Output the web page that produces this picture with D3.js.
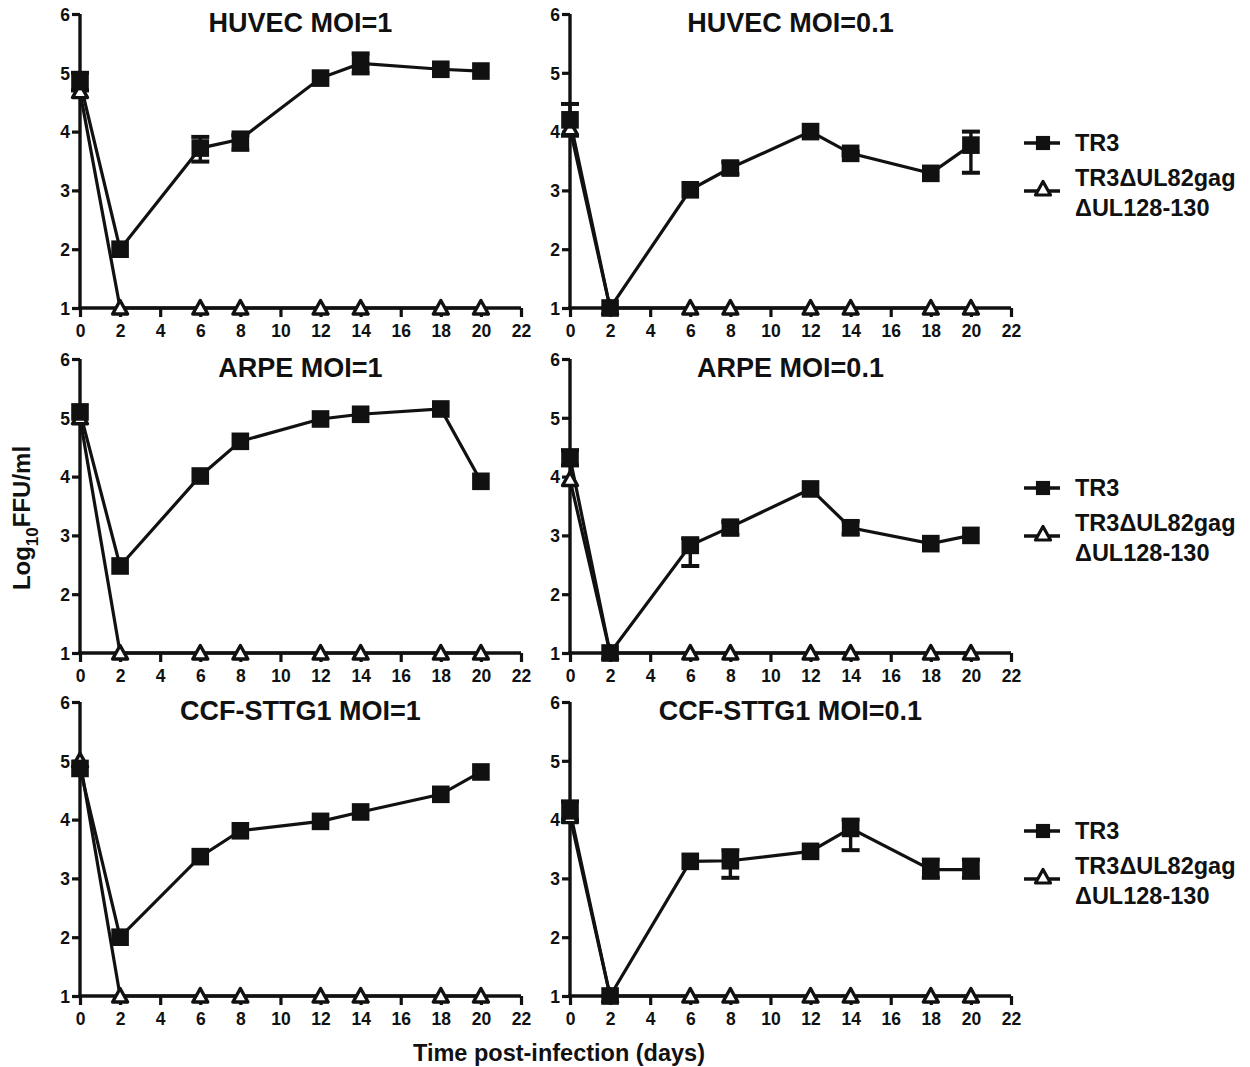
<!DOCTYPE html>
<html>
<head>
<meta charset="utf-8">
<script src="https://cdn.jsdelivr.net/npm/d3@7"></script>
<style>
  body { margin: 0; background: #fff; }
  svg text { font-family: "Liberation Sans", Arial, sans-serif; font-weight: bold; fill: #111; }
</style>
</head>
<body>
<svg id="chart" width="1250" height="1067"></svg>
<script>
// days sampled
const days = [0, 2, 6, 8, 12, 14, 18, 20];
const xTicks = [0, 2, 4, 6, 8, 10, 12, 14, 16, 18, 20, 22];
const yTicks = [1, 2, 3, 4, 5, 6];

// HUVEC MOI=1
const huvec1TR3 = [4.85, 2.0, 3.72, 3.87, 4.91, 5.16, 5.06, 5.03];
const huvec1Lo  = [4.70, 2.0, 3.49, 3.69, 4.91, 4.99, 5.06, 5.03];
const huvec1Hi  = [5.00, 2.0, 3.91, 3.94, 4.91, 5.33, 5.06, 5.03];
const huvec1Mut = [4.68, 1, 1, 1, 1, 1, 1, 1];

// HUVEC MOI=0.1
const huvec01TR3 = [4.20, 1.0, 3.01, 3.38, 4.00, 3.63, 3.29, 3.77];
const huvec01Lo  = [3.93, 1.0, 3.01, 3.28, 4.00, 3.60, 3.29, 3.30];
const huvec01Hi  = [4.47, 1.0, 3.01, 3.48, 4.00, 3.66, 3.29, 4.00];
const huvec01Mut = [4.05, 1, 1, 1, 1, 1, 1, 1];

// ARPE MOI=1
const arpe1TR3 = [5.10, 2.48, 4.01, 4.60, 4.98, 5.06, 5.15, 3.92];
const arpe1Lo  = [5.10, 2.48, 4.01, 4.60, 4.98, 5.06, 5.15, 3.92];
const arpe1Hi  = [5.10, 2.48, 4.01, 4.60, 4.98, 5.06, 5.15, 3.92];
const arpe1Mut = [5.00, 1, 1, 1, 1, 1, 1, 1];

// ARPE MOI=0.1
const arpe01TR3 = [4.32, 1.0, 2.83, 3.14, 3.79, 3.13, 2.86, 3.00];
const arpe01Lo  = [4.19, 1.0, 2.48, 3.01, 3.79, 3.02, 2.86, 3.00];
const arpe01Hi  = [4.45, 1.0, 2.95, 3.23, 3.79, 3.24, 2.86, 3.00];
const arpe01Mut = [3.95, 1, 1, 1, 1, 1, 1, 1];

// CCF-STTG1 MOI=1
const ccf1TR3 = [4.87, 2.0, 3.37, 3.81, 3.97, 4.13, 4.43, 4.81];
const ccf1Lo  = [4.87, 2.0, 3.37, 3.81, 3.97, 4.13, 4.43, 4.81];
const ccf1Hi  = [4.87, 2.0, 3.37, 3.81, 3.97, 4.13, 4.43, 4.81];
const ccf1Mut = [5.00, 1, 1, 1, 1, 1, 1, 1];

// CCF-STTG1 MOI=0.1
const ccf01TR3 = [4.15, 1.0, 3.29, 3.30, 3.46, 3.85, 3.15, 3.15];
const ccf01Lo  = [4.00, 1.0, 3.29, 3.01, 3.46, 3.48, 3.01, 3.01];
const ccf01Hi  = [4.31, 1.0, 3.29, 3.48, 3.46, 4.00, 3.32, 3.32];
const ccf01Mut = [4.05, 1, 1, 1, 1, 1, 1, 1];

const seriesNames = ["TR3", "TR3\u0394UL82gag", "\u0394UL128-130"];

const panels = [
    { title: "HUVEC MOI=1",       col: 0, row: 0, tr3: huvec1TR3,  lo: huvec1Lo,  hi: huvec1Hi,  mut: huvec1Mut },
    { title: "HUVEC MOI=0.1",     col: 1, row: 0, tr3: huvec01TR3, lo: huvec01Lo, hi: huvec01Hi, mut: huvec01Mut },
    { title: "ARPE MOI=1",        col: 0, row: 1, tr3: arpe1TR3,   lo: arpe1Lo,   hi: arpe1Hi,   mut: arpe1Mut },
    { title: "ARPE MOI=0.1",      col: 1, row: 1, tr3: arpe01TR3,  lo: arpe01Lo,  hi: arpe01Hi,  mut: arpe01Mut },
    { title: "CCF-STTG1 MOI=1",   col: 0, row: 2, tr3: ccf1TR3,    lo: ccf1Lo,    hi: ccf1Hi,    mut: ccf1Mut },
    { title: "CCF-STTG1 MOI=0.1", col: 1, row: 2, tr3: ccf01TR3,   lo: ccf01Lo,   hi: ccf01Hi,   mut: ccf01Mut }
];

// layout of the grid
const colLeft = [80, 570];
const plotWidth = 441;
const rowTop = [14, 359, 702];
const plotHeight = 294;
const ink = "#111";

const svg = d3.select("#chart");

const squarePath = d3.symbol(d3.symbolSquare, 310)();
const trianglePath = "M0,-7.5L7.5,6L-7.5,6Z";

function drawPanel(p) {
    const left = colLeft[p.col];
    const top = rowTop[p.row];
    const g = svg.append("g").attr("transform", `translate(${left},${top})`);

    const x = d3.scaleLinear().domain([0, 22]).range([0, plotWidth]);
    const y = d3.scaleLinear().domain([1, 6]).range([plotHeight, 0]);

    // axes
    const xAxis = g.append("g")
        .attr("transform", `translate(0,${plotHeight})`)
        .call(d3.axisBottom(x).tickValues(xTicks).tickFormat(d3.format("d"))
            .tickSize(9).tickSizeOuter(0).tickPadding(8));
    const yAxis = g.append("g")
        .call(d3.axisLeft(y).tickValues(yTicks).tickFormat(d3.format("d"))
            .tickSize(8).tickSizeOuter(0).tickPadding(2));

    [xAxis, yAxis].forEach(a => {
        a.select(".domain").attr("stroke", ink).attr("stroke-width", 3.4);
        a.selectAll(".tick line").attr("stroke", ink).attr("stroke-width", 3.2);
        a.selectAll(".tick text").attr("font-size", 17.5).attr("fill", ink)
            .style("font-family", '"Liberation Sans", Arial, sans-serif').style("font-weight", "bold");
    });
    yAxis.selectAll(".tick text").attr("dy", "0.36em");
    // axes meet at the corner
    yAxis.select(".domain").attr("d", `M0,${plotHeight + 1.7}V0`);
    xAxis.select(".domain").attr("d", `M-1.7,0H${plotWidth}`);

    g.append("text")
        .attr("x", plotWidth / 2)
        .attr("y", 18)
        .attr("text-anchor", "middle")
        .attr("font-size", 27)
        .text(p.title);

    const line = d3.line().x(d => x(d[0])).y(d => y(d[1]));
    const mutPts = days.map((d, i) => [d, p.mut[i]]);
    const trPts = days.map((d, i) => [d, p.tr3[i]]);

    g.append("path").datum(mutPts).attr("d", line)
        .attr("fill", "none").attr("stroke", ink).attr("stroke-width", 3.2);
    g.append("path").datum(trPts).attr("d", line)
        .attr("fill", "none").attr("stroke", ink).attr("stroke-width", 3.2);

    // error bars for TR3
    const errs = days.map((d, i) => ({ day: d, lo: p.lo[i], hi: p.hi[i] }))
        .filter(e => e.hi - e.lo > 0.001);
    const eb = g.selectAll("g.err").data(errs).enter().append("g").attr("class", "err");
    eb.append("line")
        .attr("x1", d => x(d.day)).attr("x2", d => x(d.day))
        .attr("y1", d => y(d.lo)).attr("y2", d => y(d.hi))
        .attr("stroke", ink).attr("stroke-width", 3.4);
    eb.selectAll("line.cap").data(d => [[d.day, d.lo], [d.day, d.hi]]).enter().append("line")
        .attr("class", "cap")
        .attr("x1", d => x(d[0]) - 9).attr("x2", d => x(d[0]) + 9)
        .attr("y1", d => y(d[1])).attr("y2", d => y(d[1]))
        .attr("stroke", ink).attr("stroke-width", 4);

    // markers
    g.selectAll("path.tri").data(mutPts).enter().append("path")
        .attr("class", "tri")
        .attr("d", trianglePath)
        .attr("transform", d => `translate(${x(d[0])},${y(d[1])})`)
        .attr("fill", "#fff").attr("stroke", ink).attr("stroke-width", 3.4)
        .attr("stroke-linejoin", "round");
    g.selectAll("path.sq").data(trPts).enter().append("path")
        .attr("class", "sq")
        .attr("d", squarePath)
        .attr("transform", d => `translate(${x(d[0])},${y(d[1])})`)
        .attr("fill", ink);

    // legend on the right-hand panels
    if (p.col === 1) {
        const lg = svg.append("g").attr("transform", `translate(1024,${top + 129})`);
        lg.append("line").attr("x1", 0).attr("x2", 36).attr("y1", 0).attr("y2", 0)
            .attr("stroke", ink).attr("stroke-width", 3.4);
        lg.append("path").attr("d", d3.symbol(d3.symbolSquare, 200)()).attr("transform", "translate(19,0)").attr("fill", ink);
        lg.append("text").attr("x", 51).attr("y", 8).attr("font-size", 23.5).text(seriesNames[0]);

        lg.append("line").attr("x1", 0).attr("x2", 36).attr("y1", 48).attr("y2", 48)
            .attr("stroke", ink).attr("stroke-width", 3.4);
        lg.append("path").attr("d", trianglePath).attr("transform", "translate(19,46)")
            .attr("fill", "#fff").attr("stroke", ink).attr("stroke-width", 3.2)
            .attr("stroke-linejoin", "round");
        lg.append("text").attr("x", 51).attr("y", 43).attr("font-size", 23.5).text(seriesNames[1]);
        lg.append("text").attr("x", 51).attr("y", 73).attr("font-size", 23.5).text(seriesNames[2]);
    }
}

panels.forEach(drawPanel);

// shared axis titles
svg.append("text")
    .attr("x", 559).attr("y", 1061)
    .attr("text-anchor", "middle")
    .attr("font-size", 23.5)
    .text("Time post-infection (days)");

const yl = svg.append("text")
    .attr("transform", "translate(30,518) rotate(-90)")
    .attr("text-anchor", "middle")
    .attr("font-size", 24);
yl.append("tspan").text("Log");
yl.append("tspan").attr("font-size", 17).attr("dy", 8).text("10");
yl.append("tspan").attr("dy", -8).text("FFU/ml");
</script>
</body>
</html>
